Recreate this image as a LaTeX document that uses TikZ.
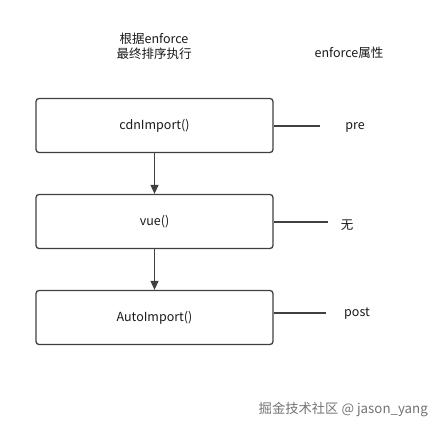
\documentclass[tikz,border=0pt]{standalone}
\usepackage{fontspec}
\setmainfont{Noto Sans CJK SC}
\usetikzlibrary{arrows.meta}
\begin{document}
\begin{tikzpicture}[x=1pt,y=-1pt,
  box/.style={draw=black!75,line width=1.3pt,rounded corners=3pt,minimum width=237pt,minimum height=54pt,inner sep=0pt,font=\fontsize{12.5}{15}\selectfont,text=black!90},
  lbl/.style={font=\fontsize{12.5}{15}\selectfont,text=black!90,inner sep=0pt},
  conn/.style={draw=black!75,line width=1.2pt},
  arr/.style={conn,-{Triangle[length=9pt,width=8pt]}}]
\useasboundingbox (0,0) rectangle (441,432);
\node[lbl,align=center] (h1) at (154,46) {根据enforce\\最终排序执行};
\node[lbl] (h2) at (349,53) {enforce属性};
\node[box] (b1) at (154.5,125.5) {cdnImport()};
\node[box] (b2) at (154.5,221.5) {vue()};
\node[box] (b3) at (154.5,317.5) {AutoImport()};
\draw[arr] (b1) -- (b2);
\draw[arr] (b2) -- (b3);
\coordinate (e1) at (320,126);
\coordinate (e2) at (328,222);
\coordinate (e3) at (326,313);
\draw[conn] (b1.east |- e1) -- (e1);
\draw[conn] (b2.east |- e2) -- (e2);
\draw[conn] (b3.east |- e3) -- (e3);
\node[lbl] (p1) at (355,127) {pre};
\node[lbl] (p2) at (347,225) {无};
\node[lbl] (p3) at (357,314) {post};
\node[lbl,anchor=east,text=black!55,font=\fontsize{13.3}{15}\selectfont] (wm) at (428,410) {掘金技术社区 @ jason\_yang};
\end{tikzpicture}
\end{document}
